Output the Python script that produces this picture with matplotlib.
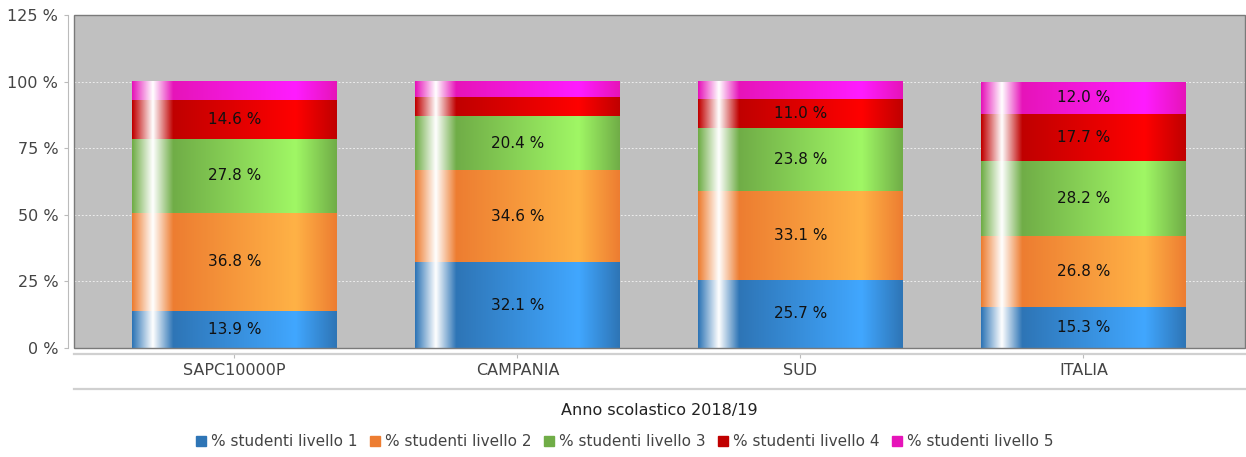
"""Stacked percentage bars per area, levels 1-5, JFreeChart-like gradient look."""

import matplotlib
matplotlib.use("Agg")
import matplotlib.pyplot as plt
import numpy as np
from matplotlib.lines import Line2D
from matplotlib.patches import Rectangle

# ---------------------------------------------------------------------------
# Data
# ---------------------------------------------------------------------------
categories = ["SAPC10000P", "CAMPANIA", "SUD", "ITALIA"]
series_names = [
    "% studenti livello 1",
    "% studenti livello 2",
    "% studenti livello 3",
    "% studenti livello 4",
    "% studenti livello 5",
]
livello_1 = [13.9, 32.1, 25.7, 15.3]
livello_2 = [36.8, 34.6, 33.1, 26.8]
livello_3 = [27.8, 20.4, 23.8, 28.2]
livello_4 = [14.6, 7.2, 11.0, 17.7]
livello_5 = [6.9, 5.7, 6.4, 12.0]
y_ticks = [0, 25, 50, 75, 100, 125]
x_label = "Anno scolastico 2018/19"

series_values = [livello_1, livello_2, livello_3, livello_4, livello_5]

# base colours (0-255); the bright variant follows Java's Color.brighter()
BASE_RGB = [
    (46, 117, 182),
    (237, 125, 49),
    (112, 173, 71),
    (192, 0, 0),
    (230, 20, 185),
]

LABEL_MIN = 8.0  # segments smaller than this get no value label
BAR_WIDTH = 0.724
TEXT_GREY = "#444444"


def brighter(rgb):
    out = []
    for c in rgb:
        if 0 < c < 3:
            c = 3
        out.append(min(255, int(c / 0.7)) if c > 0 else 0)
    return tuple(out)


def gradient_row(rgb, n=200):
    """Horizontal colour profile: c0 -> white -> c0 -> c1 -> c0."""
    c0 = np.array(rgb, dtype=float) / 255
    c1 = np.array(brighter(rgb), dtype=float) / 255
    white = np.ones(3)
    t = np.linspace(0, 1, n)
    row = np.zeros((n, 3))
    for i, ti in enumerate(t):
        if ti < 0.1:
            f = ti / 0.1
            row[i] = c0 + (white - c0) * f
        elif ti < 0.2:
            f = (ti - 0.1) / 0.1
            row[i] = white + (c0 - white) * f
        elif ti < 0.8:
            f = (ti - 0.2) / 0.6
            row[i] = c0 + (c1 - c0) * f
        else:
            f = (ti - 0.8) / 0.2
            row[i] = c1 + (c0 - c1) * f
    return row[np.newaxis, :, :]


# ---------------------------------------------------------------------------
# Figure
# ---------------------------------------------------------------------------
plt.rcParams["font.family"] = ["DejaVu Sans"]

W, H = 1246, 457
fig = plt.figure(figsize=(W / 100, H / 100), dpi=100)
ax = fig.add_axes([74 / W, 1 - 348 / H, (1245 - 74) / W, (348 - 15) / H])
ax.set_facecolor("#c0c0c0")

x = np.arange(len(categories))
bottom = np.zeros(len(categories))
for values, rgb, name in zip(series_values, BASE_RGB, series_names):
    color = tuple(c / 255 for c in rgb)
    bars = ax.bar(x, values, BAR_WIDTH, bottom=bottom, color=color,
                  linewidth=0, label=name, zorder=2)
    grad = gradient_row(rgb)
    for rect, val in zip(bars, values):
        x0, y0 = rect.get_x(), rect.get_y()
        ax.imshow(grad, extent=(x0, x0 + rect.get_width(), y0, y0 + rect.get_height()),
                  aspect="auto", interpolation="bilinear", zorder=3)
        if val >= LABEL_MIN:
            ax.text(rect.get_x() + rect.get_width() / 2, y0 + val / 2,
                    f"{val:.1f} %", ha="center", va="center",
                    fontsize=11, color="#111111", zorder=4)
    bottom += np.array(values)

ax.set_xlim(-0.567, 3.571)
ax.set_ylim(0, 125)

# gridlines
ax.set_yticks(y_ticks)
ax.set_yticklabels([f"{v} %" for v in y_ticks])
ax.yaxis.grid(True, color="#f4f4f4", linestyle=(0, (2.2, 2.2)), linewidth=0.6, zorder=1)
ax.set_axisbelow(True)

# plot border
for sp in ax.spines.values():
    sp.set_visible(False)
ax.add_patch(Rectangle((0, 0), 1, 1, transform=ax.transAxes, fill=False,
                       edgecolor="#7a7a7a", linewidth=1.0, clip_on=False, zorder=5))

# offset axis lines, JFreeChart style
ax.spines["left"].set_visible(True)
ax.spines["left"].set_position(("outward", 4.3))
ax.spines["left"].set_color("#bbbbbb")
ax.spines["bottom"].set_visible(True)
ax.spines["bottom"].set_position(("outward", 4.0))
ax.spines["bottom"].set_color("#d0d0d0")
ax.spines["bottom"].set_linewidth(1.6)

ax.tick_params(axis="y", direction="out", length=3, width=0.8, color="#bbbbbb",
               labelsize=11.5, labelcolor=TEXT_GREY, pad=4)
ax.set_xticks(x)
ax.set_xticklabels(categories)
ax.tick_params(axis="x", direction="out", length=3, width=0.8, color="#bbbbbb",
               labelsize=11.5, labelcolor=TEXT_GREY, pad=4)

# second rule below the category labels
fig.add_artist(Line2D([74 / W, 1245 / W], [1 - 389 / H] * 2, transform=fig.transFigure,
                      color="#d0d0d0", linewidth=1.6))

fig.text((74 + 1245) / 2 / W, 1 - 411 / H, x_label, ha="center", va="center",
         fontsize=11.5, color="#222222")

handles = [Rectangle((0, 0), 1, 1, color=tuple(c / 255 for c in rgb)) for rgb in BASE_RGB]
fig.legend(handles, series_names, loc="center", bbox_to_anchor=(625 / W, 1 - 442 / H),
           ncol=5, frameon=False, fontsize=11, handlelength=0.65, handleheight=0.65,
           handletextpad=0.35, columnspacing=0.8, labelcolor=TEXT_GREY)

fig.savefig("out.png", dpi=100)
